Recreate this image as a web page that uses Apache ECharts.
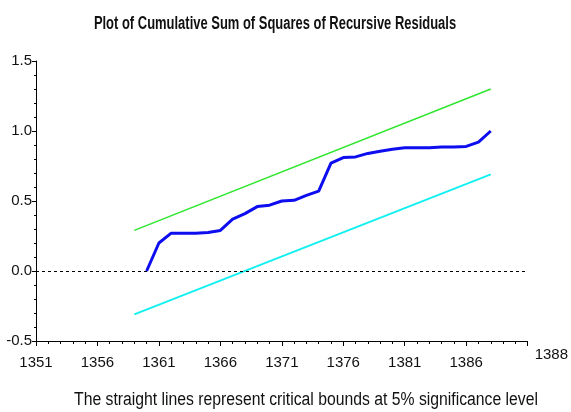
<!DOCTYPE html>
<html>
<head>
<meta charset="utf-8">
<script src="https://cdn.jsdelivr.net/npm/echarts@6/dist/echarts.min.js"></script>
<style>
html,body{margin:0;padding:0;background:#fff;}
#c{width:571px;height:412px;}
</style>
</head>
<body>
<div id="c"></div>
<script>
// ---- data ----
const BASE_YEAR = 1351;
const END_YEAR = 1391;
const LAST_OBS_LABEL = '1388';
const years = [1360,1361,1362,1363,1364,1365,1366,1367,1368,1369,1370,1371,1372,1373,1374,1375,1376,1377,1378,1379,1380,1381,1382,1383,1384,1385,1386,1387,1388];
const cusumsq = [0,0.20,0.27,0.27,0.27,0.275,0.29,0.37,0.41,0.46,0.47,0.50,0.505,0.54,0.57,0.77,0.81,0.815,0.84,0.855,0.87,0.88,0.88,0.88,0.885,0.885,0.89,0.92,1.00];
const boundYears = [1359,1388];
const upperBound = [0.29,1.30];
const lowerBound = [-0.31,0.69];
const yTicks = {min:-0.5,max:1.5,step:0.5};
const titleText = 'Plot of Cumulative Sum of Squares of Recursive Residuals';
const footText = 'The straight lines represent critical bounds at 5% significance level';

const toPts = (xs, vs) => xs.map((y, i) => [y - BASE_YEAR, vs[i]]);
const SANS = '"Liberation Sans", Arial, sans-serif';

const chart = echarts.init(document.getElementById('c'), null, {renderer:'canvas'});
chart.setOption({
  animation:false,
  backgroundColor:'#fff',
  graphic:[
    {type:'text',x:275,y:24,scaleX:0.72,silent:true,
     style:{text:titleText,font:'bold 18px ' + SANS,fill:'#111',align:'center',verticalAlign:'middle'}},
    {type:'text',x:306,y:400,scaleX:0.875,silent:true,
     style:{text:footText,font:'normal 18px ' + SANS,fill:'#111',align:'center',verticalAlign:'middle'}}
  ],
  grid:{left:36,right:37,top:61,bottom:71,containLabel:false},
  xAxis:{
    type:'value',min:0,max:END_YEAR-BASE_YEAR,interval:5,
    name:LAST_OBS_LABEL,nameLocation:'end',nameGap:7,
    nameTextStyle:{fontFamily:SANS,fontSize:15,color:'#111',verticalAlign:'top',padding:[6,0,0,0]},
    axisLine:{onZero:false,lineStyle:{color:'#000',width:1}},
    axisTick:{show:true,length:5,lineStyle:{color:'#000'}},
    minorTick:{show:true,splitNumber:5,length:3,lineStyle:{color:'#000'}},
    splitLine:{show:false},
    axisLabel:{showMaxLabel:false,margin:14,fontFamily:SANS,fontSize:15,color:'#111',
      formatter:v=>String(v+BASE_YEAR)}
  },
  yAxis:{
    type:'value',min:yTicks.min,max:yTicks.max,interval:yTicks.step,
    axisLine:{show:true,lineStyle:{color:'#000',width:1}},
    axisTick:{show:true,length:4,lineStyle:{color:'#000'}},
    minorTick:{show:true,splitNumber:5,length:2,lineStyle:{color:'#000'}},
    splitLine:{show:false},
    axisLabel:{margin:4,fontFamily:SANS,fontSize:15,color:'#111',
      formatter:v=>v.toFixed(1)}
  },
  series:[
    {type:'line',name:'zero',data:[],symbol:'none',
     markLine:{silent:true,symbol:'none',label:{show:false},
       lineStyle:{color:'#000',type:[3,3],width:1},
       data:[{yAxis:0}]}},
    {type:'line',name:'upper',data:toPts(boundYears,upperBound),symbol:'none',
     lineStyle:{color:'#2ee62e',width:1.5}},
    {type:'line',name:'lower',data:toPts(boundYears,lowerBound),symbol:'none',
     lineStyle:{color:'#11f0f0',width:1.8}},
    {type:'line',name:'CUSUMSQ',data:toPts(years,cusumsq),symbol:'none',
     lineStyle:{color:'#0d0df0',width:3}}
  ]
});
</script>
</body>
</html>
